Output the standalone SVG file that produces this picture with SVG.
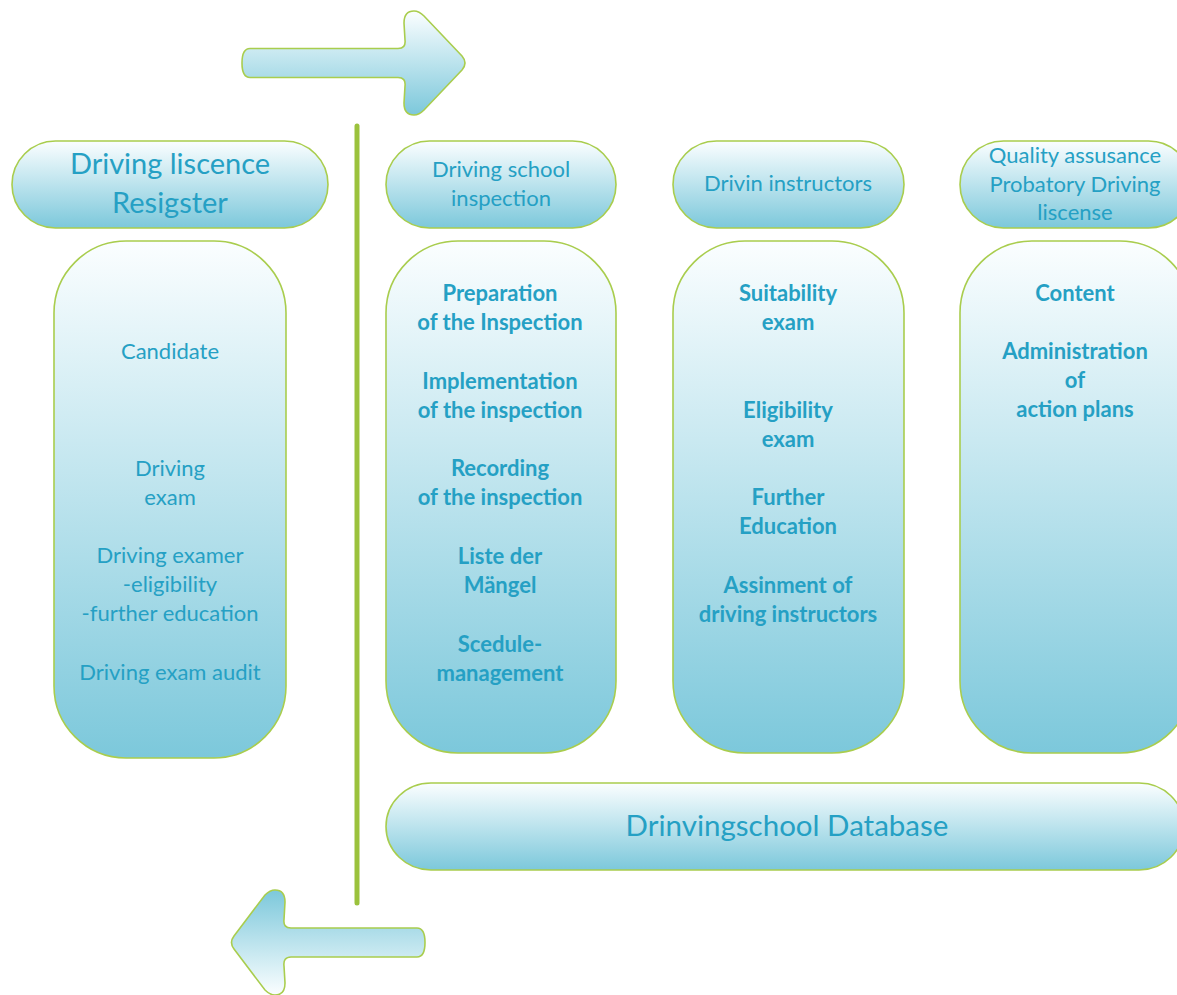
<svg xmlns="http://www.w3.org/2000/svg" width="1177" height="995" viewBox="0 0 1177 995">
<defs>
<linearGradient id="gDown" x1="0" y1="0" x2="0" y2="1">
<stop offset="0" stop-color="#fbfeff"/>
<stop offset="1" stop-color="#7cc8db"/>
</linearGradient>
<linearGradient id="gUp" x1="0" y1="0" x2="0" y2="1">
<stop offset="0" stop-color="#7cc8db"/>
<stop offset="1" stop-color="#fbfeff"/>
</linearGradient>
<style>
.shape{fill:url(#gDown);stroke:#a9cd4e;stroke-width:1.6}
.arrowUp{fill:url(#gUp);stroke:#a9cd4e;stroke-width:1.6}
text{font-family:Lato,"Liberation Sans",sans-serif;fill:#25a0c4;text-anchor:middle}
.h1{font-size:29px}
.h{font-size:22px}
.b{font-size:22px}
.bb{font-size:22px;font-weight:bold}
.db{font-size:29.5px}
</style>
</defs>
<rect width="1177" height="995" fill="#ffffff"/>

<g id="connectors">
<line x1="357" y1="126" x2="357" y2="903" stroke="#9bc23c" stroke-width="5" stroke-linecap="round"/>
<path id="arrow-right" class="shape" d="M 250,48.5 L 398,48.5 Q 406,48.5 405,40 L 404,23 Q 404,11 414,11 Q 419,11 424,16 L 462,56 Q 468,63 462,70 L 424,110 Q 419,115 414,115 Q 404,115 404,103 L 405,86 Q 406,77.5 398,77.5 L 250,77.5 Q 242,77.5 242,63 Q 242,48.5 250,48.5 Z"/>
<path id="arrow-left" class="arrowUp" d="M 417,928 L 291,928 Q 283,928 284,919.5 L 285,902 Q 285,890 275,890 Q 270,890 265,895 L 234,936 Q 229,942.5 234,949 L 265,990 Q 270,995 275,995 Q 285,995 285,983 L 284,966 Q 283,957 291,957 L 417,957 Q 425,957 425,942.5 Q 425,928 417,928 Z"/>
</g>

<g id="header-register">
<rect class="shape" x="12" y="141" width="316" height="87" rx="43.5"/>
<text class="h1" x="170" y="174">Driving liscence</text>
<text class="h1" x="170" y="213">Resigster</text>
</g>
<g id="header-inspection">
<rect class="shape" x="386" y="141" width="230" height="87" rx="43.5"/>
<text class="h" x="501" y="177">Driving school</text>
<text class="h" x="501" y="206">inspection</text>
</g>
<g id="header-instructors">
<rect class="shape" x="673" y="141" width="231" height="87" rx="43.5"/>
<text class="h" x="788" y="191">Drivin instructors</text>
</g>
<g id="header-quality">
<rect class="shape" x="960" y="141" width="232" height="87" rx="43.5"/>
<text class="h" x="1075" y="163">Quality assusance</text>
<text class="h" x="1075" y="192">Probatory Driving</text>
<text class="h" x="1075" y="220">liscense</text>
</g>

<g id="body-register">
<rect class="shape" x="54" y="241" width="232" height="517" rx="72"/>
<text class="b" x="170" y="359">Candidate</text>
<text class="b" x="170" y="476">Driving</text>
<text class="b" x="170" y="505">exam</text>
<text class="b" x="170" y="563">Driving examer</text>
<text class="b" x="170" y="592">-eligibility</text>
<text class="b" x="170" y="621">-further education</text>
<text class="b" x="170" y="680">Driving exam audit</text>
</g>
<g id="body-inspection">
<rect class="shape" x="386" y="241" width="230" height="512" rx="72"/>
<text class="bb" x="500" y="301">Preparation</text>
<text class="bb" x="500" y="330">of the Inspection</text>
<text class="bb" x="500" y="389">Implementation</text>
<text class="bb" x="500" y="418">of the inspection</text>
<text class="bb" x="500" y="476">Recording</text>
<text class="bb" x="500" y="505">of the inspection</text>
<text class="bb" x="500" y="564">Liste der</text>
<text class="bb" x="500" y="593">Mängel</text>
<text class="bb" x="500" y="652">Scedule-</text>
<text class="bb" x="500" y="681">management</text>
</g>
<g id="body-instructors">
<rect class="shape" x="673" y="241" width="231" height="512" rx="72"/>
<text class="bb" x="788" y="301">Suitability</text>
<text class="bb" x="788" y="330">exam</text>
<text class="bb" x="788" y="418">Eligibility</text>
<text class="bb" x="788" y="447">exam</text>
<text class="bb" x="788" y="505">Further</text>
<text class="bb" x="788" y="534">Education</text>
<text class="bb" x="788" y="593">Assinment of</text>
<text class="bb" x="788" y="622">driving instructors</text>
</g>
<g id="body-quality">
<rect class="shape" x="960" y="241" width="232" height="512" rx="72"/>
<text class="bb" x="1075" y="301">Content</text>
<text class="bb" x="1075" y="359">Administration</text>
<text class="bb" x="1075" y="388">of</text>
<text class="bb" x="1075" y="417">action plans</text>
</g>
<g id="database">
<rect class="shape" x="386" y="783" width="798" height="87" rx="45"/>
<text class="db" x="787" y="836">Drinvingschool Database</text>
</g>
</svg>
